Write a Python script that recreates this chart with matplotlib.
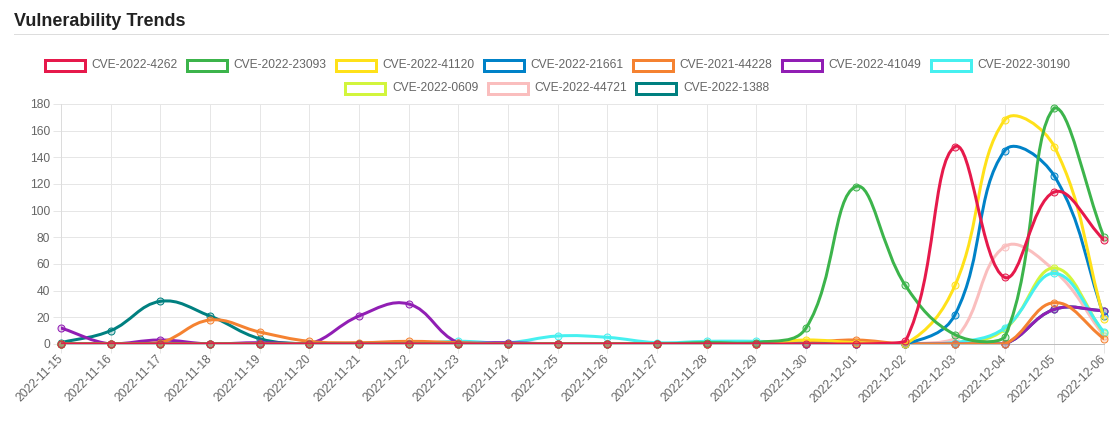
import numpy as np
import matplotlib
matplotlib.use("Agg")
import matplotlib.pyplot as plt
from matplotlib.path import Path
from matplotlib.patches import PathPatch, Rectangle
from matplotlib.lines import Line2D
from matplotlib.colors import to_rgba

plt.rcParams['font.family'] = ['Liberation Sans', 'DejaVu Sans']

# ---------------- data ----------------
dates = ["2022-11-15", "2022-11-16", "2022-11-17", "2022-11-18", "2022-11-19",
         "2022-11-20", "2022-11-21", "2022-11-22", "2022-11-23", "2022-11-24",
         "2022-11-25", "2022-11-26", "2022-11-27", "2022-11-28", "2022-11-29",
         "2022-11-30", "2022-12-01", "2022-12-02", "2022-12-03", "2022-12-04",
         "2022-12-05", "2022-12-06"]

series_names = ["CVE-2022-4262", "CVE-2022-23093", "CVE-2022-41120", "CVE-2022-21661",
                "CVE-2021-44228", "CVE-2022-41049", "CVE-2022-30190", "CVE-2022-0609",
                "CVE-2022-44721", "CVE-2022-1388"]

cve_2022_4262 = [0, 0, 0, 0, 0, 0, 0, 0, 0, 0, 0, 0, 0, 0, 0, 0, 0, 2, 148, 50, 114, 78]
cve_2022_23093 = [0, 0, 0, 0, 0, 0, 0, 0, 0, 0, 0, 0, 0, 1, 1, 12, 118, 44, 7, 5, 177, 80]
cve_2022_41120 = [0, 0, 0, 0, 0, 0, 0, 0, 0, 0, 0, 0, 0, 0, 0, 3, 1, 0, 44, 168, 148, 19]
cve_2022_21661 = [0, 0, 0, 0, 0, 0, 0, 0, 0, 0, 0, 0, 0, 0, 0, 0, 0, 0, 22, 145, 126, 21]
cve_2021_44228 = [0, 0, 1, 18, 9, 2, 1, 2, 1, 0, 0, 0, 0, 0, 0, 1, 3, 0, 0, 0, 31, 4]
cve_2022_41049 = [12, 0, 3, 0, 1, 0, 21, 30, 1, 1, 0, 0, 0, 0, 0, 0, 0, 0, 0, 0, 26, 25]
cve_2022_30190 = [0, 0, 0, 0, 0, 0, 0, 0, 2, 1, 6, 5, 1, 2, 2, 1, 1, 0, 1, 12, 53, 9]
cve_2022_0609 = [0, 0, 0, 0, 0, 0, 0, 0, 0, 0, 0, 0, 0, 0, 0, 1, 0, 0, 0, 11, 57, 8]
cve_2022_44721 = [0, 0, 0, 0, 0, 0, 0, 0, 0, 0, 0, 0, 0, 0, 0, 0, 0, 0, 4, 73, 55, 6]
cve_2022_1388 = [1, 10, 32, 21, 4, 0, 0, 0, 0, 0, 0, 0, 0, 0, 0, 0, 0, 0, 0, 0, 26, 25]

series_values = [cve_2022_4262, cve_2022_23093, cve_2022_41120, cve_2022_21661,
                 cve_2021_44228, cve_2022_41049, cve_2022_30190, cve_2022_0609,
                 cve_2022_44721, cve_2022_1388]

colors = ["#e6194b", "#3cb44b", "#ffe119", "#0082c8", "#f58231",
          "#911eb4", "#46f0f0", "#d2f53c", "#fabebe", "#008080"]

y_ticks = [0, 20, 40, 60, 80, 100, 120, 140, 160, 180]

# ---------------- layout ----------------
W, H = 1118, 428
PX = 72.0 / 100.0  # points per pixel at dpi 100
fig = plt.figure(figsize=(W / 100, H / 100), dpi=100)
fig.patch.set_facecolor("white")

def fxy(px, py):
    return px / W, 1 - py / H

left, right, top, bottom = 61, 1104, 104, 344
ax = fig.add_axes([left / W, 1 - bottom / H, (right - left) / W, (bottom - top) / H])
x = np.arange(len(dates))
ax.set_xlim(0, len(dates) - 1)
ax.set_ylim(y_ticks[0], y_ticks[-1])
ax.set_yticks(y_ticks)
ax.set_xticks(x)
ax.set_xticklabels(dates, rotation=45, ha="right", va="center", rotation_mode="anchor")
ax.grid(True, color="#e6e6e6", lw=1 * PX)
ax.set_axisbelow(True)
for s in ["top", "right"]:
    ax.spines[s].set_visible(False)
ax.spines["left"].set_color("#dcdcdc")
ax.spines["bottom"].set_color("#bdbdbd")
ax.spines["left"].set_linewidth(1 * PX)
ax.spines["bottom"].set_linewidth(1 * PX)
ax.tick_params(axis="y", length=8 * PX, width=1 * PX, color="#e6e6e6", pad=3 * PX,
               labelsize=12 * PX, labelcolor="#666666")
ax.tick_params(axis="x", length=9 * PX, width=1 * PX, color="#e6e6e6", pad=4 * PX,
               labelsize=12 * PX, labelcolor="#666666")


def chartjs_path(xd, yd, tension=0.4):
    pts = ax.transData.transform(np.column_stack([xd, yd]).astype(float))
    n = len(pts)
    cp_prev = np.zeros_like(pts)
    cp_next = np.zeros_like(pts)
    for i in range(n):
        prev = pts[i - 1] if i > 0 else pts[i]
        cur = pts[i]
        nxt = pts[i + 1] if i < n - 1 else pts[i]
        d01 = np.hypot(*(cur - prev))
        d12 = np.hypot(*(nxt - cur))
        tot = d01 + d12
        s01 = d01 / tot if tot > 0 else 0.0
        s12 = d12 / tot if tot > 0 else 0.0
        cp_prev[i] = cur - tension * s01 * (nxt - prev)
        cp_next[i] = cur + tension * s12 * (nxt - prev)
    (x0, y0), (x1, y1) = ax.transData.transform([[ax.get_xlim()[0], ax.get_ylim()[0]],
                                                 [ax.get_xlim()[1], ax.get_ylim()[1]]])
    for cp in (cp_prev, cp_next):
        cp[:, 0] = np.clip(cp[:, 0], x0, x1)
        cp[:, 1] = np.clip(cp[:, 1], y0, y1)
    verts = [pts[0]]
    codes = [Path.MOVETO]
    for i in range(n - 1):
        verts += [cp_next[i], cp_prev[i + 1], pts[i + 1]]
        codes += [Path.CURVE4] * 3
    verts = ax.transData.inverted().transform(np.array(verts))
    return Path(verts, codes)


N = len(series_values)
for i, (vals, c) in enumerate(zip(series_values, colors)):
    z = 3 + (N - i) * 2
    p = chartjs_path(x, vals)
    ax.add_patch(PathPatch(p, facecolor="none", edgecolor=c, lw=3 * PX,
                           zorder=z, capstyle="round", joinstyle="round"))
    ax.plot(x, vals, "o", ms=7 * PX, mfc=to_rgba(c, 0.2), mec=c, mew=1 * PX,
            zorder=z + 1, clip_on=False)

# ---------------- title ----------------
fig.text(*fxy(14, 25.7), "Vulnerability Trends", fontsize=18 * PX, fontweight="bold",
         color="#222222", ha="left", va="baseline")
fig.add_artist(Line2D([14 / W, 1108 / W], [1 - 34 / H, 1 - 34 / H],
                      color="#dddddd", lw=1 * PX, transform=fig.transFigure))

# ---------------- legend ----------------
renderer = fig.canvas.get_renderer()
rows = [list(range(0, 7)), list(range(7, 10))]
row_y = [65.5, 88.0]
center_x = 556.5
box_w, box_h, gap, spacing = 43, 14, 5, 8

def text_width(s):
    t = fig.text(0, 0, s, fontsize=12 * PX)
    w = t.get_window_extent(renderer).width
    t.remove()
    return w

for row, yc in zip(rows, row_y):
    widths = [box_w + gap + text_width(series_names[k]) for k in row]
    total = sum(widths) + spacing * (len(row) - 1)
    xs = center_x - total / 2
    for k, w in zip(row, widths):
        bx, by = fxy(xs + 1.5, yc + box_h / 2 - 1.5)
        bw = (box_w - 3) / W
        bh = (box_h - 3) / H
        fig.add_artist(Rectangle((bx, by), bw, bh, transform=fig.transFigure,
                                 facecolor="white", edgecolor=colors[k], lw=3 * PX))
        fig.text(*fxy(xs + box_w + gap, yc), series_names[k], fontsize=12 * PX,
                 color="#666666", ha="left", va="center")
        xs += w + spacing

fig.savefig("out.png", dpi=100)
